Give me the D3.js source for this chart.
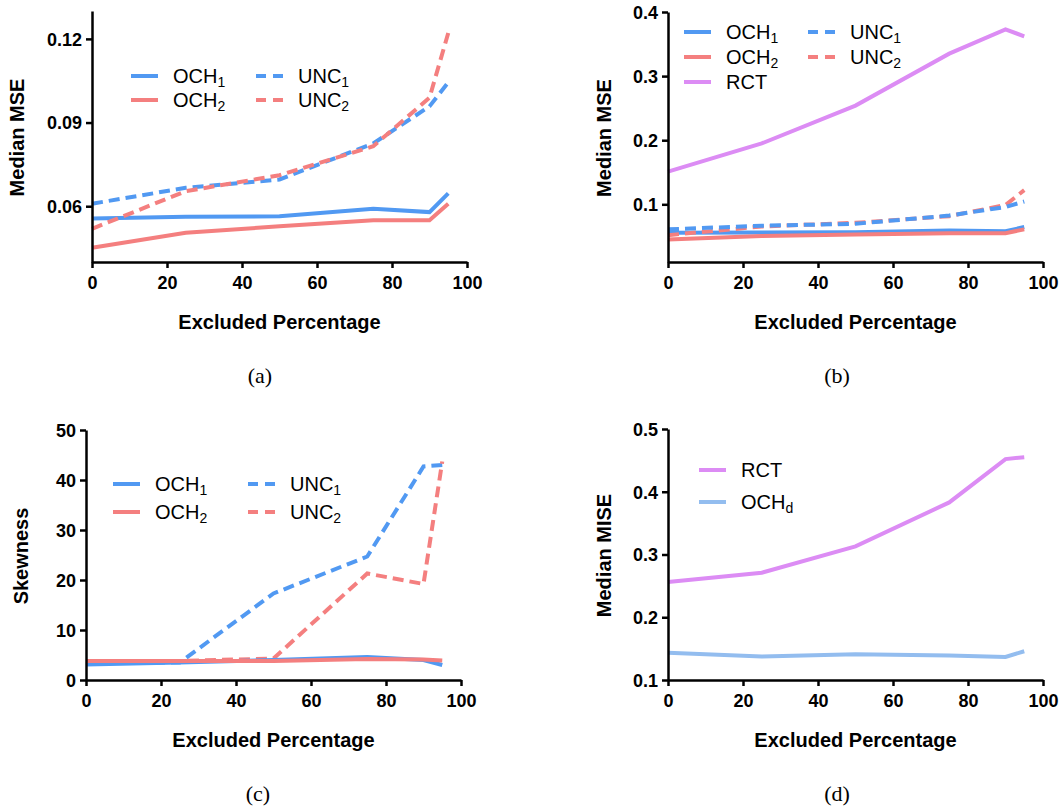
<!DOCTYPE html>
<html>
<head>
<meta charset="utf-8">
<script src="https://cdn.jsdelivr.net/npm/d3@7"></script>
<style>
  body { margin: 0; background: #fff; }
  svg { display: block; }
  .tick text { font-family: "Liberation Sans", Arial, sans-serif; font-weight: bold; font-size: 18px; fill: #000; }
</style>
</head>
<body>
<div id="chart"></div>
<script>
// Data
const excluded = [0, 25, 50, 75, 90, 95]
const xTicks = [0, 20, 40, 60, 80, 100]

const mseOch1 = [0.0556, 0.0562, 0.0564, 0.0591, 0.0579, 0.0646]
const mseOch2 = [0.0451, 0.0505, 0.0528, 0.0550, 0.0550, 0.0609]
const mseUnc1 = [0.0609, 0.0666, 0.0696, 0.0825, 0.0958, 0.1044]
const mseUnc2 = [0.0519, 0.0654, 0.0711, 0.0815, 0.0989, 0.1221]
const mseRct  = [0.151, 0.195, 0.254, 0.335, 0.373, 0.362]

const skewOch1 = [3.1, 3.5, 4.0, 4.6, 4.0, 3.0]
const skewOch2 = [3.8, 3.8, 3.8, 4.2, 4.1, 3.9]
const skewUnc1 = [3.4, 3.5, 17.3, 24.7, 42.7, 43.0]
const skewUnc2 = [3.8, 3.8, 4.3, 21.3, 19.2, 43.7]

const miseRct  = [0.256, 0.271, 0.313, 0.383, 0.452, 0.455]
const miseOchd = [0.1436, 0.1375, 0.1410, 0.1390, 0.1367, 0.1458]

const ticksA = [0.06, 0.09, 0.12]
const ticksB = [0.1, 0.2, 0.3, 0.4]
const ticksC = [0, 10, 20, 30, 40, 50]
const ticksD = [0.1, 0.2, 0.3, 0.4, 0.5]

// Colours
const blue = '#5199f2'
const red = '#f47f7f'
const violet = '#dc8cf4'
const lightBlue = '#93bdef'

const svg = d3.select('#chart')
  .append('svg')
  .attr('width', 1061)
  .attr('height', 808)

const drawPanel = ({ x0, x1, yTop, yBot, domain, ticks, fmt, yTitle, yTitleX, caption, captionX, series, legend }) => {
  const g = svg.append('g')
  const x = d3.scaleLinear().domain([0, 100]).range([x0, x1])
  const y = d3.scaleLinear().domain(domain).range([yBot, yTop])

  const line = vals => d3.line()
    .x((d, i) => x(excluded[i]))
    .y(d => y(d))(vals)

  // lines
  series.forEach(s => {
    g.append('path')
      .attr('d', line(s.values))
      .attr('fill', 'none')
      .attr('stroke', s.color)
      .attr('stroke-width', 4)
      .attr('stroke-linejoin', 'miter')
      .attr('stroke-dasharray', s.dashed ? '11,6' : null)
  })

  // axes
  const xAxis = g.append('g')
    .attr('transform', `translate(0,${yBot})`)
    .call(d3.axisBottom(x).tickValues(xTicks).tickSize(6).tickSizeOuter(0).tickPadding(8))
  const yAxis = g.append('g')
    .attr('transform', `translate(${x0},0)`)
    .call(d3.axisLeft(y).tickValues(ticks).tickFormat(d3.format(fmt)).tickSize(6).tickSizeOuter(0).tickPadding(4))
  ;[xAxis, yAxis].forEach(a => {
    a.select('.domain').attr('stroke', '#000').attr('stroke-width', 2.5)
    a.selectAll('.tick line').attr('stroke', '#000').attr('stroke-width', 2.5)
  })
  yAxis.selectAll('.tick text').attr('dy', '0.35em')

  // titles
  g.append('text')
    .attr('x', (x0 + x1) / 2)
    .attr('y', yBot + 67)
    .attr('text-anchor', 'middle')
    .style('font-family', '"Liberation Sans", Arial, sans-serif')
    .style('font-weight', 'bold')
    .style('font-size', '20px')
    .text('Excluded Percentage')
  g.append('text')
    .attr('transform', `translate(${yTitleX},${(yTop + yBot) / 2 + 1}) rotate(-90)`)
    .attr('text-anchor', 'middle')
    .attr('dy', '0.35em')
    .style('font-family', '"Liberation Sans", Arial, sans-serif')
    .style('font-weight', 'bold')
    .style('font-size', '20px')
    .text(yTitle)
  g.append('text')
    .attr('x', captionX)
    .attr('y', yBot + 121)
    .attr('text-anchor', 'middle')
    .style('font-family', '"Liberation Serif", "Times New Roman", serif')
    .style('font-size', '22px')
    .text(caption)

  // legend
  legend.forEach(l => {
    g.append('line')
      .attr('x1', l.x).attr('x2', l.x + 27)
      .attr('y1', l.y).attr('y2', l.y)
      .attr('stroke', l.color)
      .attr('stroke-width', 4)
      .attr('stroke-dasharray', l.dashed ? '10,7' : null)
    const t = g.append('text')
      .attr('x', l.x + 42)
      .attr('y', l.y + 7)
      .style('font-family', '"Liberation Sans", Arial, sans-serif')
      .style('font-size', '20px')
    t.append('tspan').text(l.label)
    if (l.sub) t.append('tspan').attr('dy', 4).style('font-size', '14px').text(l.sub)
  })
}

// (a)
drawPanel({
  x0: 92, x1: 467, yTop: 11, yBot: 262, domain: [0.04, 0.13], ticks: ticksA, fmt: '.2f',
  yTitle: 'Median MSE', yTitleX: 17, caption: '(a)', captionX: 260,
  series: [
    { values: mseOch1, color: blue },
    { values: mseOch2, color: red },
    { values: mseUnc1, color: blue, dashed: true },
    { values: mseUnc2, color: red, dashed: true }
  ],
  legend: [
    { x: 131, y: 76, color: blue, label: 'OCH', sub: '1' },
    { x: 131, y: 100, color: red, label: 'OCH', sub: '2' },
    { x: 256, y: 76, color: blue, label: 'UNC', sub: '1', dashed: true },
    { x: 256, y: 100, color: red, label: 'UNC', sub: '2', dashed: true }
  ]
})

// (b)
drawPanel({
  x0: 668, x1: 1043, yTop: 12, yBot: 262, domain: [0.01, 0.4], ticks: ticksB, fmt: '.1f',
  yTitle: 'Median MSE', yTitleX: 604, caption: '(b)', captionX: 837,
  series: [
    { values: mseRct, color: violet },
    { values: mseOch1, color: blue },
    { values: mseOch2, color: red },
    { values: mseUnc2, color: red, dashed: true },
    { values: mseUnc1, color: blue, dashed: true }
  ],
  legend: [
    { x: 684, y: 32, color: blue, label: 'OCH', sub: '1' },
    { x: 684, y: 57, color: red, label: 'OCH', sub: '2' },
    { x: 684, y: 82, color: violet, label: 'RCT' },
    { x: 808, y: 32, color: blue, label: 'UNC', sub: '1', dashed: true },
    { x: 808, y: 57, color: red, label: 'UNC', sub: '2', dashed: true }
  ]
})

// (c)
drawPanel({
  x0: 86, x1: 461, yTop: 430, yBot: 680, domain: [0, 50], ticks: ticksC, fmt: 'd',
  yTitle: 'Skewness', yTitleX: 21, caption: '(c)', captionX: 258,
  series: [
    { values: skewUnc1, color: blue, dashed: true },
    { values: skewUnc2, color: red, dashed: true },
    { values: skewOch1, color: blue },
    { values: skewOch2, color: red }
  ],
  legend: [
    { x: 113, y: 484, color: blue, label: 'OCH', sub: '1' },
    { x: 113, y: 512, color: red, label: 'OCH', sub: '2' },
    { x: 248, y: 484, color: blue, label: 'UNC', sub: '1', dashed: true },
    { x: 248, y: 512, color: red, label: 'UNC', sub: '2', dashed: true }
  ]
})

// (d)
drawPanel({
  x0: 668, x1: 1043, yTop: 429, yBot: 680, domain: [0.1, 0.5], ticks: ticksD, fmt: '.1f',
  yTitle: 'Median MISE', yTitleX: 604, caption: '(d)', captionX: 837,
  series: [
    { values: miseRct, color: violet },
    { values: miseOchd, color: lightBlue }
  ],
  legend: [
    { x: 699, y: 470, color: violet, label: 'RCT' },
    { x: 699, y: 502, color: lightBlue, label: 'OCH', sub: 'd' }
  ]
})
</script>
</body>
</html>
